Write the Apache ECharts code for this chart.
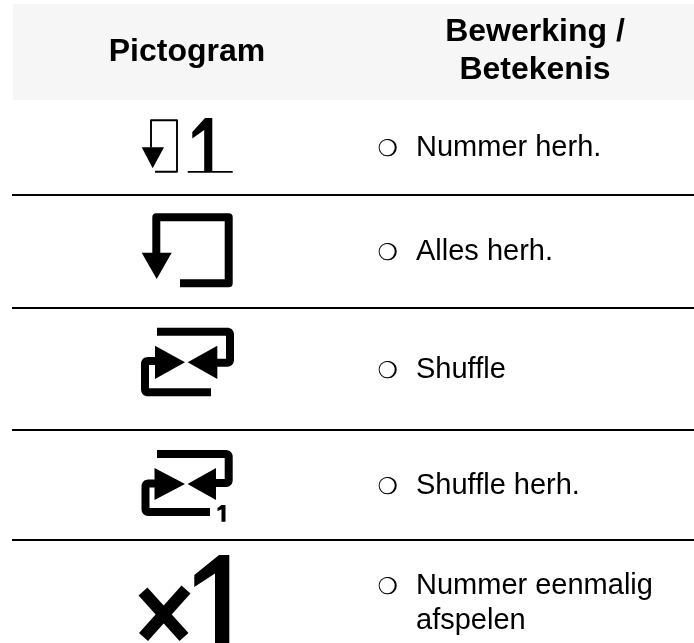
<!DOCTYPE html>
<html><head><meta charset="utf-8">
<style>html,body{margin:0;padding:0;background:#fff}#c{width:694px;height:643px}</style>
<script src="https://cdn.jsdelivr.net/npm/echarts@6/dist/echarts.min.js"></script>
</head><body><div id="c"></div>
<script>
// Table content
const headers = [["Pictogram"], ["Bewerking /", "Betekenis"]];
const rowLabels = [["Nummer herh."], ["Alles herh."], ["Shuffle"], ["Shuffle herh."], ["Nummer eenmalig", "afspelen"]];
const bullet = "\u274D";

// Layout, in page units on hidden axes
const W = 694, H = 643;
const headerBand = [13, 4, 694, 100];
const separators = [195, 308, 430, 540];
const headerCentres = [187, 535];
const headerBaselines = [[66], [45.5, 83.5]];
const rowBaselines = [[160], [264], [382], [498], [598, 633]];
const bulletBaseOffset = 9.5;
const bulletX = 377.5, textX = 416;
const HEAD_SIZE = 32, BODY_SIZE = 29, BULLET_SIZE = 23;

const shuffle = {
  lines: [
    {w: 8, r: 3, p: [[157,331.7],[230,331.7],[230,362.7],[212,362.7]]},
    {w: 8, r: 3, p: [[211,392.3],[145,392.3],[145,361],[158,361]]}
  ],
  polys: [
    [[155,345.7],[185,362.3],[155,379]],
    [[217.3,345.7],[187.7,362.3],[217.3,379]]
  ]
};
const shuffle1 = {
  lines: [
    {w: 8, r: 3, p: [[157,454],[228.7,454],[228.7,483],[212,483]]},
    {w: 8, r: 3, p: [[210,512],[145.5,512],[145.5,483.5],[158,483.5]]}
  ],
  polys: [
    [[154.5,468],[185,484],[154.5,500]],
    [[216,468],[187.5,484],[216,500]],
    [[221.5,505],[225.5,505],[225.5,521.7],[221.5,521.7],[221.5,509.5],[217.5,511],[217.5,508]]
  ]
};
const pictograms = [
  { lines: [
      {w: 1.9, p: [[151,147.5],[151,120.3],[177,120.3],[177,171.8],[155,171.8]]},
      {w: 1.8, p: [[187.7,171.8],[232.7,171.8]]}
    ],
    polys: [
      [[141.7,147.3],[164,147.3],[152.7,168.3]],
      [[205,118],[212.3,118],[212.3,172],[204.2,172],[204.2,130],[192.3,138.5],[192.3,132]]
    ] },
  { lines: [
      {w: 8, p: [[156.3,253],[156.3,217.3],[228.7,217.3],[228.7,283.2],[180,283.2]]}
    ],
    polys: [[[141.7,252.7],[171.7,252.7],[156.7,279]]] },
  shuffle,
  shuffle1,
  { lines: [
      {w: 12, p: [[143,591.5],[184,637]]},
      {w: 12, p: [[186,589.5],[143.5,637]]}
    ],
    polys: [[[219,555],[229.3,555],[229.3,643],[215,643],[215,573.5],[194.3,587],[194.3,575]]] }
];

// Round a polyline's interior corners with small quadratic arcs
function roundCorners(pts, r) {
  if (!r) return pts;
  const out = [pts[0]];
  for (let i = 1; i < pts.length - 1; i++) {
    const a = pts[i-1], b = pts[i], c = pts[i+1];
    const u = (q) => { const dx = q[0]-b[0], dy = q[1]-b[1], d = Math.hypot(dx,dy); return [b[0]+dx/d*r, b[1]+dy/d*r]; };
    const s = u(a), e = u(c);
    for (let t = 0; t <= 1.0001; t += 0.2) {
      const m = 1 - t;
      out.push([m*m*s[0]+2*m*t*b[0]+t*t*e[0], m*m*s[1]+2*m*t*b[1]+t*t*e[1]]);
    }
  }
  out.push(pts[pts.length-1]);
  return out;
}

const FONT = '"Liberation Sans", Arial, sans-serif';
const chart = echarts.init(document.getElementById('c'), null, {renderer: 'canvas'});

function renderTable(params, api) {
  const toPts = pts => pts.map(p => api.coord(p));
  const i = api.value(0);
  const kids = [];
  const text = (t, x, base, font, size, align) => {
    const c = api.coord([x, base]);
    kids.push({type: 'text', style: {text: t, x: c[0], y: c[1] - size, font, fill: '#000', align, verticalAlign: 'top', lineHeight: size * 1.15}});
  };
  if (i === 0) {
    const a = api.coord([headerBand[0], headerBand[1]]), b = api.coord([headerBand[2], headerBand[3]]);
    kids.push({type: 'rect', shape: {x: a[0], y: a[1], width: b[0]-a[0], height: b[1]-a[1]}, style: {fill: '#f6f6f6'}});
    separators.forEach(y => {
      const l = api.coord([12, y]), r = api.coord([W, y]);
      kids.push({type: 'rect', shape: {x: l[0], y: l[1]-1, width: r[0]-l[0], height: 2}, style: {fill: '#000'}});
    });
    headers.forEach((lines, h) => lines.forEach((t, k) =>
      text(t, headerCentres[h], headerBaselines[h][k], 'bold ' + HEAD_SIZE + 'px ' + FONT, HEAD_SIZE, 'center')));
  } else {
    const r = i - 1, ic = pictograms[r];
    ic.lines.forEach(l => kids.push({type: 'polyline', shape: {points: toPts(roundCorners(l.p, l.r))},
      style: {stroke: '#000', fill: null, lineWidth: l.w, lineJoin: 'round', lineCap: 'butt'}}));
    ic.polys.forEach(p => kids.push({type: 'polygon', shape: {points: toPts(p)}, style: {fill: '#000'}}));
    const bc = api.coord([bulletX, rowBaselines[r][0] - bulletBaseOffset]);
    kids.push({type: 'text', style: {text: bullet, x: bc[0], y: bc[1], font: BULLET_SIZE + 'px "DejaVu Sans"', fill: '#000', align: 'left', verticalAlign: 'middle'}});
    rowLabels[r].forEach((t, k) => text(t, textX, rowBaselines[r][k], BODY_SIZE + 'px ' + FONT, BODY_SIZE, 'left'));
  }
  return {type: 'group', children: kids};
}

chart.setOption({
  animation: false,
  backgroundColor: '#fff',
  grid: {left: 0, right: 0, top: 0, bottom: 0},
  xAxis: {type: 'value', min: 0, max: W, show: false},
  yAxis: {type: 'value', min: 0, max: H, inverse: true, show: false},
  series: [{
    type: 'custom', clip: false, silent: true,
    coordinateSystem: 'cartesian2d',
    renderItem: renderTable,
    encode: {x: 0, y: 0},
    data: [0].concat(rowLabels.map((_, i) => i + 1)).map(i => [i])
  }]
});
</script></body></html>
